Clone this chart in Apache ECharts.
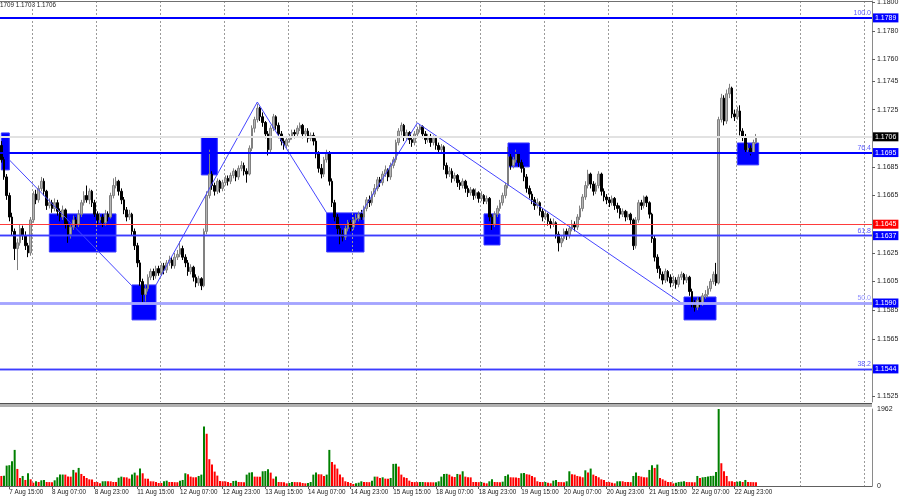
<!DOCTYPE html>
<html><head><meta charset="utf-8">
<script src="https://cdn.jsdelivr.net/npm/echarts@6/dist/echarts.min.js"></script>
<style>html,body{margin:0;padding:0;background:#fff}#c{width:900px;height:500px}</style>
</head><body><div id="c"></div>
<script>
// ---------- DATA ----------
const opens=[
1.1700,1.1690,1.1678,1.1665,1.1650,1.1640,1.1628,1.1632,1.1642,1.1637,
1.1630,1.1625,1.1648,1.1666,1.1662,1.1670,1.1675,1.1668,1.1658,1.1660,
1.1656,1.1660,1.1654,1.1650,1.1655,1.1645,1.1638,1.1643,1.1648,1.1645,
1.1652,1.1660,1.1665,1.1662,1.1668,1.1660,1.1652,1.1648,1.1650,1.1646,
1.1652,1.1650,1.1665,1.1672,1.1675,1.1668,1.1662,1.1655,1.1650,1.1652,
1.1640,1.1630,1.1618,1.1605,1.1596,1.1600,1.1608,1.1612,1.1609,1.1614,
1.1611,1.1616,1.1613,1.1618,1.1620,1.1616,1.1622,1.1624,1.1628,1.1622,
1.1618,1.1612,1.1615,1.1608,1.1604,1.1607,1.1602,1.1640,1.1665,1.1680,
1.1672,1.1668,1.1675,1.1670,1.1674,1.1677,1.1675,1.1679,1.1682,1.1678,
1.1684,1.1686,1.1682,1.1680,1.1698,1.1712,1.1718,1.1726,1.1720,1.1716,
1.1708,1.1697,1.1712,1.1720,1.1714,1.1708,1.1703,1.1700,1.1704,1.1706,
1.1709,1.1708,1.1712,1.1714,1.1708,1.1710,1.1705,1.1707,1.1703,1.1694,
1.1684,1.1680,1.1690,1.1695,1.1675,1.1660,1.1650,1.1642,1.1638,1.1636,
1.1642,1.1646,1.1643,1.1648,1.1649,1.1652,1.1650,1.1656,1.1662,1.1660,
1.1666,1.1670,1.1676,1.1674,1.1680,1.1683,1.1678,1.1686,1.1690,1.1702,
1.1710,1.1714,1.1706,1.1709,1.1704,1.1702,1.1708,1.1711,1.1713,1.1708,
1.1704,1.1706,1.1702,1.1705,1.1700,1.1697,1.1699,1.1686,1.1680,1.1682,
1.1677,1.1679,1.1674,1.1672,1.1675,1.1670,1.1667,1.1669,1.1665,1.1667,
1.1663,1.1665,1.1661,1.1663,1.1650,1.1645,1.1652,1.1656,1.1660,1.1665,
1.1672,1.1692,1.1686,1.1690,1.1694,1.1688,1.1684,1.1678,1.1670,1.1666,
1.1662,1.1658,1.1660,1.1654,1.1650,1.1652,1.1647,1.1645,1.1646,1.1638,
1.1632,1.1635,1.1640,1.1637,1.1642,1.1645,1.1643,1.1650,1.1656,1.1664,
1.1672,1.1680,1.1673,1.1668,1.1672,1.1680,1.1668,1.1664,1.1662,1.1660,
1.1663,1.1658,1.1656,1.1652,1.1654,1.1650,1.1652,1.1648,1.1630,1.1648,
1.1660,1.1658,1.1664,1.1660,1.1652,1.1635,1.1622,1.1614,1.1610,1.1606,
1.1612,1.1608,1.1604,1.1606,1.1603,1.1608,1.1610,1.1606,1.1608,1.1598,
1.1590,1.1587,1.1592,1.1590,1.1595,1.1596,1.1600,1.1605,1.1610,1.1604,
1.1718,1.1733,1.1717,1.1736,1.1740,1.1722,1.1720,1.1724,1.1710,1.1706,
1.1697,1.1698,1.1695,1.1702];
const closes=[
1.1690,1.1678,1.1665,1.1650,1.1640,1.1628,1.1632,1.1642,1.1637,1.1630,
1.1625,1.1648,1.1666,1.1662,1.1670,1.1675,1.1668,1.1658,1.1660,1.1656,
1.1660,1.1654,1.1650,1.1655,1.1645,1.1638,1.1643,1.1648,1.1645,1.1652,
1.1660,1.1665,1.1662,1.1668,1.1660,1.1652,1.1648,1.1650,1.1646,1.1652,
1.1650,1.1665,1.1672,1.1675,1.1668,1.1662,1.1655,1.1650,1.1652,1.1640,
1.1630,1.1618,1.1605,1.1596,1.1600,1.1608,1.1612,1.1609,1.1614,1.1611,
1.1616,1.1613,1.1618,1.1620,1.1616,1.1622,1.1624,1.1628,1.1622,1.1618,
1.1612,1.1615,1.1608,1.1604,1.1607,1.1602,1.1640,1.1665,1.1680,1.1672,
1.1668,1.1675,1.1670,1.1674,1.1677,1.1675,1.1679,1.1682,1.1678,1.1684,
1.1686,1.1682,1.1680,1.1698,1.1712,1.1718,1.1726,1.1720,1.1716,1.1708,
1.1697,1.1712,1.1720,1.1714,1.1708,1.1703,1.1700,1.1704,1.1706,1.1709,
1.1708,1.1712,1.1714,1.1708,1.1710,1.1705,1.1707,1.1703,1.1694,1.1684,
1.1680,1.1690,1.1695,1.1675,1.1660,1.1650,1.1642,1.1638,1.1636,1.1642,
1.1646,1.1643,1.1648,1.1649,1.1652,1.1650,1.1656,1.1662,1.1660,1.1666,
1.1670,1.1676,1.1674,1.1680,1.1683,1.1678,1.1686,1.1690,1.1702,1.1710,
1.1714,1.1706,1.1709,1.1704,1.1702,1.1708,1.1711,1.1713,1.1708,1.1704,
1.1706,1.1702,1.1705,1.1700,1.1697,1.1699,1.1686,1.1680,1.1682,1.1677,
1.1679,1.1674,1.1672,1.1675,1.1670,1.1667,1.1669,1.1665,1.1667,1.1663,
1.1665,1.1661,1.1663,1.1650,1.1645,1.1652,1.1656,1.1660,1.1665,1.1672,
1.1692,1.1686,1.1690,1.1694,1.1688,1.1684,1.1678,1.1670,1.1666,1.1662,
1.1658,1.1660,1.1654,1.1650,1.1652,1.1647,1.1645,1.1646,1.1638,1.1632,
1.1635,1.1640,1.1637,1.1642,1.1645,1.1643,1.1650,1.1656,1.1664,1.1672,
1.1680,1.1673,1.1668,1.1672,1.1680,1.1668,1.1664,1.1662,1.1660,1.1663,
1.1658,1.1656,1.1652,1.1654,1.1650,1.1652,1.1648,1.1630,1.1648,1.1660,
1.1658,1.1664,1.1660,1.1652,1.1635,1.1622,1.1614,1.1610,1.1606,1.1612,
1.1608,1.1604,1.1606,1.1603,1.1608,1.1610,1.1606,1.1608,1.1598,1.1590,
1.1587,1.1592,1.1590,1.1595,1.1596,1.1600,1.1605,1.1610,1.1604,1.1718,
1.1733,1.1717,1.1736,1.1740,1.1722,1.1720,1.1724,1.1710,1.1706,1.1697,
1.1698,1.1695,1.1702,1.1706];
const highs=[
1.1703,1.1692,1.1680,1.1667,1.1653,1.1642,1.1635,1.1645,1.1644,1.1640,
1.1632,1.1650,1.1668,1.1669,1.1672,1.1678,1.1677,1.1669,1.1663,1.1662,
1.1663,1.1662,1.1656,1.1658,1.1656,1.1647,1.1645,1.1651,1.1650,1.1655,
1.1662,1.1668,1.1672,1.1670,1.1669,1.1662,1.1654,1.1653,1.1652,1.1655,
1.1654,1.1667,1.1677,1.1678,1.1676,1.1670,1.1664,1.1657,1.1655,1.1653,
1.1642,1.1632,1.1620,1.1607,1.1603,1.1610,1.1614,1.1614,1.1616,1.1616,
1.1618,1.1618,1.1620,1.1623,1.1622,1.1625,1.1627,1.1633,1.1630,1.1624,
1.1620,1.1617,1.1616,1.1610,1.1609,1.1608,1.1642,1.1668,1.1697,1.1682,
1.1674,1.1677,1.1676,1.1676,1.1679,1.1679,1.1681,1.1684,1.1683,1.1686,
1.1689,1.1688,1.1684,1.1700,1.1714,1.1720,1.1729,1.1727,1.1723,1.1717,
1.1710,1.1714,1.1722,1.1721,1.1716,1.1710,1.1705,1.1706,1.1708,1.1711,
1.1711,1.1714,1.1716,1.1715,1.1712,1.1712,1.1709,1.1709,1.1705,1.1696,
1.1687,1.1692,1.1697,1.1696,1.1677,1.1662,1.1652,1.1644,1.1641,1.1644,
1.1648,1.1648,1.1650,1.1652,1.1654,1.1655,1.1658,1.1664,1.1665,1.1668,
1.1673,1.1678,1.1678,1.1682,1.1686,1.1684,1.1688,1.1692,1.1704,1.1712,
1.1716,1.1715,1.1711,1.1710,1.1706,1.1710,1.1713,1.1715,1.1714,1.1710,
1.1708,1.1708,1.1707,1.1706,1.1702,1.1701,1.1700,1.1688,1.1685,1.1684,
1.1681,1.1680,1.1676,1.1677,1.1676,1.1672,1.1671,1.1670,1.1670,1.1668,
1.1668,1.1666,1.1665,1.1664,1.1652,1.1654,1.1658,1.1662,1.1667,1.1674,
1.1699,1.1694,1.1692,1.1697,1.1695,1.1690,1.1686,1.1680,1.1672,1.1668,
1.1664,1.1663,1.1661,1.1656,1.1655,1.1653,1.1649,1.1649,1.1647,1.1640,
1.1637,1.1642,1.1642,1.1644,1.1648,1.1647,1.1652,1.1658,1.1666,1.1675,
1.1683,1.1681,1.1675,1.1674,1.1682,1.1681,1.1670,1.1666,1.1664,1.1665,
1.1664,1.1660,1.1658,1.1656,1.1655,1.1654,1.1653,1.1649,1.1650,1.1662,
1.1662,1.1665,1.1665,1.1661,1.1653,1.1637,1.1624,1.1616,1.1612,1.1614,
1.1613,1.1610,1.1609,1.1608,1.1610,1.1612,1.1611,1.1610,1.1609,1.1600,
1.1592,1.1594,1.1594,1.1597,1.1599,1.1602,1.1607,1.1612,1.1618,1.1720,
1.1736,1.1735,1.1739,1.1743,1.1741,1.1725,1.1727,1.1728,1.1712,1.1708,
1.1701,1.1700,1.1704,1.1708];
const lows=[
1.1688,1.1676,1.1662,1.1647,1.1637,1.1620,1.1613,1.1630,1.1634,1.1627,
1.1622,1.1623,1.1646,1.1659,1.1660,1.1668,1.1665,1.1655,1.1656,1.1653,
1.1654,1.1651,1.1647,1.1648,1.1642,1.1632,1.1635,1.1641,1.1642,1.1643,
1.1650,1.1658,1.1660,1.1659,1.1657,1.1650,1.1645,1.1646,1.1643,1.1644,
1.1647,1.1649,1.1663,1.1670,1.1665,1.1659,1.1652,1.1647,1.1648,1.1637,
1.1627,1.1615,1.1602,1.1590,1.1591,1.1598,1.1606,1.1606,1.1607,1.1609,
1.1609,1.1610,1.1611,1.1616,1.1614,1.1614,1.1620,1.1622,1.1620,1.1615,
1.1609,1.1610,1.1605,1.1601,1.1602,1.1599,1.1601,1.1638,1.1663,1.1669,
1.1665,1.1666,1.1667,1.1668,1.1672,1.1672,1.1673,1.1677,1.1675,1.1676,
1.1682,1.1679,1.1674,1.1679,1.1696,1.1709,1.1716,1.1717,1.1713,1.1705,
1.1693,1.1695,1.1710,1.1711,1.1705,1.1700,1.1697,1.1698,1.1702,1.1704,
1.1705,1.1706,1.1710,1.1705,1.1706,1.1702,1.1703,1.1700,1.1691,1.1681,
1.1677,1.1678,1.1688,1.1672,1.1657,1.1647,1.1638,1.1631,1.1633,1.1634,
1.1640,1.1640,1.1641,1.1646,1.1647,1.1648,1.1648,1.1654,1.1657,1.1658,
1.1664,1.1668,1.1671,1.1672,1.1678,1.1675,1.1676,1.1684,1.1688,1.1700,
1.1707,1.1703,1.1704,1.1701,1.1699,1.1700,1.1706,1.1709,1.1705,1.1701,
1.1702,1.1699,1.1700,1.1697,1.1694,1.1695,1.1683,1.1677,1.1678,1.1674,
1.1675,1.1671,1.1669,1.1670,1.1667,1.1664,1.1665,1.1662,1.1663,1.1660,
1.1661,1.1659,1.1659,1.1647,1.1641,1.1643,1.1650,1.1654,1.1658,1.1663,
1.1670,1.1683,1.1684,1.1688,1.1685,1.1681,1.1675,1.1667,1.1663,1.1659,
1.1655,1.1656,1.1651,1.1647,1.1648,1.1644,1.1642,1.1643,1.1635,1.1626,
1.1629,1.1633,1.1634,1.1635,1.1640,1.1640,1.1641,1.1648,1.1654,1.1662,
1.1670,1.1670,1.1665,1.1666,1.1670,1.1665,1.1661,1.1659,1.1657,1.1658,
1.1655,1.1653,1.1649,1.1650,1.1647,1.1648,1.1645,1.1627,1.1628,1.1646,
1.1655,1.1656,1.1657,1.1649,1.1632,1.1619,1.1611,1.1607,1.1603,1.1604,
1.1605,1.1601,1.1602,1.1600,1.1601,1.1606,1.1603,1.1604,1.1595,1.1587,
1.1584,1.1585,1.1587,1.1588,1.1593,1.1594,1.1598,1.1603,1.1602,1.1603,
1.1716,1.1714,1.1715,1.1733,1.1719,1.1717,1.1718,1.1707,1.1703,1.1694,
1.1694,1.1693,1.1694,1.1701];
const volumes=[
256,260,520,530,630,920,435,205,256,154,
324,170,85,120,102,145,150,102,100,95,
145,222,290,292,290,239,238,410,341,461,
307,256,205,170,168,102,100,68,120,122,
120,118,102,100,210,239,222,220,188,290,
341,270,444,324,188,186,120,118,102,77,
76,120,136,102,100,98,96,136,154,324,
299,239,222,220,256,290,1519,1331,683,546,
367,265,128,120,118,102,77,128,136,102,
100,96,290,341,350,239,238,236,375,380,
427,341,188,239,102,100,98,68,77,102,
100,98,96,77,68,77,102,290,341,299,
297,256,290,920,614,546,444,290,222,120,
100,77,51,68,85,120,102,100,98,136,
239,238,205,222,188,186,205,563,565,495,
290,222,205,136,102,100,98,100,102,98,
96,96,94,96,120,239,307,310,290,239,
230,307,290,375,239,222,220,102,100,98,
102,85,68,120,170,102,100,98,110,256,
290,222,220,218,205,324,330,300,290,256,
222,120,102,100,102,85,68,136,154,102,
100,98,120,375,299,290,256,239,222,400,
341,444,290,256,222,170,154,102,100,85,
68,120,122,120,102,100,98,256,341,256,
239,222,220,410,529,460,546,205,170,136,
102,100,68,85,102,110,120,102,100,98,
96,256,205,222,230,239,256,260,358,1962,
580,375,256,120,118,102,110,120,102,154,
102,100,98,96];
const tickLabels=['7 Aug 15:00','8 Aug 07:00','8 Aug 23:00','11 Aug 15:00','12 Aug 07:00','12 Aug 23:00','13 Aug 15:00','14 Aug 07:00','14 Aug 23:00','15 Aug 15:00','18 Aug 07:00','18 Aug 23:00','19 Aug 15:00','20 Aug 07:00','20 Aug 23:00','21 Aug 15:00','22 Aug 07:00','22 Aug 23:00'];
const firstLabelIndex=3, labelStep=16;      // bar index of first time label, bars between labels
const dayStartIndex=12, dayStep=24;         // first day separator, bars per day
const totalSlots=327;                       // bars incl. empty space on the right
const priceTicks=[1.1800,1.1780,1.1760,1.1745,1.1725,1.1685,1.1665,1.1625,1.1605,1.1585,1.1565,1.1525];
const volumeTicks=[0,1962];
const fibValues=[1.1789,1.1695,1.1637,1.1590,1.1544];
const fibNames=['100.0','76.4','61.8','50.0','38.2'];
const currentPrice=1.1706;
const alertLevel=1.1645;
const headerText='1709 1.1703 1.1706';
// zones: [fromBar, toBar, topPrice, bottomPrice]
const zoneFrom=[0,18,49,75,122,181,190,256,276];
const zoneTo  =[3,43,58,81,136,187,198,268,284];
const zoneTop =[1.17087,1.16522,1.16026,1.17059,1.16529,1.16522,1.17017,1.15942,1.17017];
const zoneBot =[1.16829,1.16256,1.15782,1.16794,1.16256,1.16305,1.16850,1.15782,1.16864];
// zigzag segments
const zigFromBar=[3,58,96,135,156];
const zigFromPx =[1.16899,1.16026,1.17303,1.16529,1.17157];
const zigToBar  =[49,96,122,156,255];
const zigToPx   =[1.16019,1.17303,1.16529,1.17157,1.15900];

// ---------- STYLES ----------
const FONT='Liberation Sans';
const fibLineColors=['#0000ff','#0000ff','#3c3cff','#a4a4ff','#3c3cff'];
const fibLineWidths=[2,2,1.4,2.5,1.4];
const fibTextColors=['#5a5aff','#5a5aff','#5a5aff','#9090ff','#5a5aff'];
const fibBoxColor='#0000ff';

const cats=Array.from({length:totalSlots},(_,i)=>String(i));
const candleData=opens.map((o,i)=>[o,closes[i],lows[i],highs[i]]);
const volData=volumes.map((v,i)=>({value:v,itemStyle:{color:(i>0&&v>volumes[i-1])?'#008000':'#ff0000'}}));
const labelFn=(idx)=>idx>=firstLabelIndex&&(idx-firstLabelIndex)%labelStep===0&&(idx-firstLabelIndex)/labelStep<tickLabels.length;
const dayFn=(idx)=>idx>=dayStartIndex&&(idx-dayStartIndex)%dayStep===0;

function lvl(v,color,width,bg){
  return {yAxis:v,lineStyle:{color:color,width:width,type:'solid',opacity:1},
    label:{show:true,position:'end',formatter:v.toFixed(4),color:'#fff',backgroundColor:bg,
      padding:[1,2,1,2],fontSize:7,fontFamily:FONT,distance:1}};
}
function fibTag(v,i){
  return {yAxis:v,lineStyle:{color:fibLineColors[i],width:fibLineWidths[i],type:'solid',opacity:1},
    label:{show:true,position:'insideEndTop',formatter:fibNames[i],color:fibTextColors[i],
      fontSize:7,fontFamily:FONT,distance:1}};
}
const levelLines=[lvl(currentPrice,'#e2e2e2',2,'#000'),lvl(alertLevel,'#ff3b3b',1,'#ff0000')]
  .concat(fibValues.map((v,i)=>lvl(v,fibLineColors[i],fibLineWidths[i],fibBoxColor)))
  .concat(fibValues.map((v,i)=>fibTag(v,i)));

const zoneAreas=zoneFrom.map((a,i)=>[{xAxis:String(a),yAxis:zoneTop[i]},{xAxis:String(zoneTo[i]),yAxis:zoneBot[i]}]);

const zigSeries=zigFromBar.map((a,i)=>({type:'line',xAxisIndex:0,yAxisIndex:0,symbol:'none',silent:true,z:4,
  data:[[a,zigFromPx[i]],[zigToBar[i],zigToPx[i]]],lineStyle:{color:'#4646ff',width:1}}));

const chart=echarts.init(document.getElementById('c'),null,{renderer:'canvas'});
chart.setOption({
  animation:false,
  backgroundColor:'#fff',
  textStyle:{fontFamily:FONT},
  grid:[
    {left:0,right:28,top:1,height:401,outerBoundsMode:'none'},
    {left:0,right:28,top:409,height:77,outerBoundsMode:'none'}
  ],
  xAxis:[
    {type:'category',gridIndex:0,data:cats,boundaryGap:true,position:'top',
     axisLine:{show:true,lineStyle:{color:'#707070',width:1}},axisTick:{show:false},axisLabel:{show:false},
     splitLine:{show:true,interval:dayFn,lineStyle:{type:[2,2],color:'#9a9a9a',width:1}}},
    {type:'category',gridIndex:1,data:cats,boundaryGap:true,position:'bottom',
     axisLine:{show:true,lineStyle:{color:'#606060',width:1}},
     axisTick:{show:true,interval:labelFn,alignWithLabel:true,length:3,lineStyle:{color:'#606060'}},
     axisLabel:{show:true,interval:labelFn,align:'left',fontSize:6.3,color:'#222',margin:3,fontFamily:FONT,
       formatter:(v,idx)=>tickLabels[(idx-firstLabelIndex)/labelStep]},
     splitLine:{show:true,interval:dayFn,lineStyle:{type:[2,2],color:'#9a9a9a',width:1}}}
  ],
  yAxis:[
    {type:'value',gridIndex:0,position:'right',min:1.15209,max:1.18008,
     axisLine:{show:true,lineStyle:{color:'#8a8a8a',width:1}},
     axisTick:{show:true,length:3,customValues:priceTicks,lineStyle:{color:'#606060'}},
     axisLabel:{show:true,customValues:priceTicks,fontSize:7,color:'#222',margin:5,fontFamily:FONT,
       formatter:v=>v.toFixed(4)},
     splitLine:{show:false}},
    {type:'value',gridIndex:1,position:'right',min:0,max:1962,
     axisLine:{show:true,lineStyle:{color:'#8a8a8a',width:1}},
     axisTick:{show:false,customValues:volumeTicks},
     axisLabel:{show:true,customValues:volumeTicks,fontSize:7,color:'#222',margin:5,fontFamily:FONT,
       formatter:v=>String(v)},
     splitLine:{show:false}}
  ],
  series:[
    {type:'line',name:'zones',xAxisIndex:0,yAxisIndex:0,data:[],silent:true,
     markArea:{silent:true,z:-1,itemStyle:{color:'#0000ff',borderColor:'#3a3aff',borderWidth:1},data:zoneAreas}},
    {type:'candlestick',name:'price',xAxisIndex:0,yAxisIndex:0,data:candleData,barWidth:2,z:3,
     itemStyle:{color:'#b4b4b4',color0:'#000000',borderColor:'#808080',borderColor0:'#000000',borderWidth:1},
     markLine:{symbol:'none',silent:true,animation:false,precision:6,data:levelLines}},
    ...zigSeries,
    {type:'bar',name:'volume',xAxisIndex:1,yAxisIndex:1,data:volData,barWidth:2}
  ],
  graphic:[
    {type:'text',left:0,top:2,style:{text:headerText,fontSize:6.3,fontFamily:FONT,fill:'#222'}},
    {type:'rect',shape:{x:0,y:403,width:872,height:1},style:{fill:'#505050'},z:10},
    {type:'rect',shape:{x:0,y:404,width:872,height:3},style:{fill:'#b0b0b0'},z:10}
  ]
});
</script></body></html>
